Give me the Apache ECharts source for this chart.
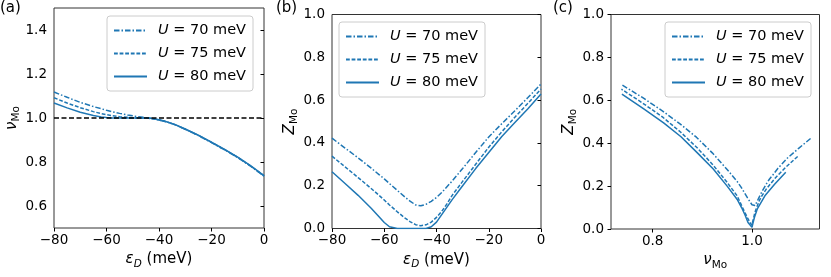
<!DOCTYPE html>
<html>
<head>
<meta charset="utf-8">
<script src="https://cdn.jsdelivr.net/npm/echarts@6/dist/echarts.min.js"></script>
<style>html,body{margin:0;padding:0;background:#fff;}#c{width:831px;height:277px;}</style>
</head>
<body>
<div id="c"></div>
<script>
// ---------------- data ----------------
const U_VALUES = [70, 75, 80];
const EPS = [-80,-75,-70,-65,-62,-60,-58,-55,-52,-50,-48,-46,-44,-42,-40,-38,-36,-34,-30,-25,-20,-15,-10,-5,0];

const NU_70 = [1.118,1.094,1.071,1.052,1.042,1.035,1.029,1.021,1.014,1.010,1.006,1.003,1.000,0.996,0.991,0.985,0.978,0.970,0.949,0.920,0.888,0.855,0.820,0.780,0.736];
const NU_75 = [1.092,1.068,1.047,1.029,1.020,1.015,1.011,1.006,1.003,1.001,1.000,1.000,0.999,0.996,0.991,0.985,0.978,0.970,0.949,0.921,0.889,0.856,0.821,0.781,0.737];
const NU_80 = [1.068,1.046,1.026,1.011,1.005,1.002,1.000,1.000,1.000,1.000,1.000,1.000,1.000,0.997,0.992,0.986,0.979,0.971,0.950,0.922,0.890,0.857,0.822,0.782,0.738];

const Z_70 = [0.422,0.376,0.330,0.282,0.252,0.232,0.210,0.178,0.146,0.127,0.110,0.106,0.113,0.127,0.145,0.168,0.195,0.222,0.280,0.355,0.428,0.490,0.550,0.612,0.675];
const Z_75 = [0.338,0.288,0.238,0.187,0.155,0.133,0.110,0.078,0.048,0.031,0.018,0.013,0.017,0.030,0.052,0.080,0.115,0.155,0.220,0.300,0.380,0.452,0.520,0.585,0.652];
const Z_80 = [0.265,0.210,0.155,0.095,0.055,0.028,0.008,0.000,0.000,0.000,0.000,0.000,0.000,0.008,0.030,0.065,0.100,0.135,0.200,0.280,0.355,0.430,0.495,0.560,0.629];

const NU_REF = 1.0;
const X_TICKS_EPS = [-80, -60, -40, -20, 0];
const Y_TICKS_NU = [0.6, 0.8, 1.0, 1.2, 1.4];
const Y_TICKS_Z = [0.0, 0.2, 0.4, 0.6, 0.8, 1.0];
const X_TICKS_NU = [0.8, 1.0];

// ---------------- style ----------------
const FONT = 'DejaVu Sans';
const BLUE = '#1f77b4';
const DASHES = [[5.5, 2, 1.5, 2], [3.8, 1.8], 'solid'];
const NU = [NU_70, NU_75, NU_80];
const Z = [Z_70, Z_75, Z_80];
const NAMES = U_VALUES.map(u => 'U = ' + u + ' meV');

const fmtMinus = v => (v < 0 ? '\u2212' + Math.abs(v) : String(v));
const fmt1 = v => v.toFixed(1);

const nameRich = {
  it: {fontFamily: FONT, fontStyle: 'italic', fontSize: 15, lineHeight: 20, color: '#000'},
  sub: {fontFamily: FONT, fontStyle: 'italic', fontSize: 10.5, lineHeight: 10.5, verticalAlign: 'bottom', color: '#000'},
  subr: {fontFamily: FONT, fontSize: 10.5, lineHeight: 10.5, verticalAlign: 'bottom', color: '#000'},
  n: {fontFamily: FONT, fontSize: 15, lineHeight: 20, color: '#000'}
};

function xAxisBase(gi, min, max, ticks, fmt, name, gap) {
  return {
    type: 'value', gridIndex: gi, min: min, max: max,
    axisLine: {show: false},
    axisTick: {show: true, length: 3.5, lineStyle: {color: '#000', width: 1}, customValues: ticks},
    axisLabel: {show: true, customValues: ticks, formatter: fmt, fontFamily: FONT, fontSize: 13.5, color: '#000', margin: 5},
    splitLine: {show: false},
    name: name, nameLocation: 'middle', nameGap: gap,
    nameTextStyle: {rich: nameRich}
  };
}
function yAxisBase(gi, min, max, ticks, fmt, name, gap) {
  return {
    type: 'value', gridIndex: gi, min: min, max: max,
    axisLine: {show: false},
    axisTick: {show: true, length: 3.5, lineStyle: {color: '#000', width: 1}, customValues: ticks},
    axisLabel: {show: true, customValues: ticks, formatter: fmt, fontFamily: FONT, fontSize: 13.5, color: '#000', margin: 7},
    splitLine: {show: false},
    name: name, nameLocation: 'middle', nameGap: gap, nameRotate: 90,
    nameTextStyle: {rich: nameRich}
  };
}

const grids = [
  {left: 54, top: 8, width: 210, height: 220},
  {left: 332, top: 14.5, width: 209, height: 214},
  {left: 611, top: 14.5, width: 208.5, height: 214.5}
].map(g => Object.assign(g, {show: true, borderColor: '#333', borderWidth: 1, backgroundColor: 'transparent'}));

const epsName = '{it|ε}{sub|D}{n| (meV)}';
const xAxes = [
  xAxisBase(0, -80, 0, X_TICKS_EPS, fmtMinus, epsName, 19),
  xAxisBase(1, -80, 0, X_TICKS_EPS, fmtMinus, epsName, 19),
  xAxisBase(2, 0.716, 1.136, X_TICKS_NU, fmt1, '{it|ν}{subr|Mo}', 20)
];
const yAxes = [
  yAxisBase(0, 0.5, 1.5, Y_TICKS_NU, fmt1, '{it|ν}{subr|Mo}', 28),
  yAxisBase(1, 0, 1, Y_TICKS_Z, fmt1, '{it|Z}{subr|Mo}', 31),
  yAxisBase(2, 0, 1, Y_TICKS_Z, fmt1, '{it|Z}{subr|Mo}', 32)
];

const series = [];
for (let p = 0; p < 3; p++) {
  for (let k = 0; k < 3; k++) {
    let data;
    if (p === 0) data = EPS.map((e, i) => [e, NU[k][i]]);
    else if (p === 1) data = EPS.map((e, i) => [e, Z[k][i]]);
    else data = NU[k].map((n, i) => [n, Z[k][i]]);
    const s = {
      type: 'line', name: NAMES[k], xAxisIndex: p, yAxisIndex: p, data: data,
      symbol: 'none', showSymbol: false, smooth: false, silent: true,
      lineStyle: {color: BLUE, width: 1.5, type: DASHES[k]},
      itemStyle: {color: BLUE},
      z: 3
    };
    if (p === 0 && k === 0) {
      s.markLine = {
        silent: true, symbol: 'none', animation: false,
        label: {show: false},
        lineStyle: {color: '#000', width: 1.5, type: [5, 2.5]},
        data: [{yAxis: NU_REF}]
      };
    }
    series.push(s);
  }
}

const legendRich = {
  u: {fontFamily: FONT, fontStyle: 'italic', fontSize: 14.5, lineHeight: 14, color: '#000', padding: [0, 0, 0, 6]},
  eq: {fontFamily: FONT, fontSize: 14.5, lineHeight: 14, color: '#000'},
  n: {fontFamily: FONT, fontSize: 14.5, lineHeight: 14, color: '#000'}
};
function legendAt(left, top) {
  return {
    show: true, orient: 'vertical', left: left, top: top, selectedMode: false,
    data: NAMES, itemWidth: 33, itemHeight: 14, itemGap: 8,
    padding: [7, 7, 7, 6],
    backgroundColor: 'rgba(255,255,255,0.8)', borderColor: '#cccccc', borderWidth: 1, borderRadius: 3,
    formatter: name => '{u|U}{eq| = }{n|' + name.replace('U = ', '').replace(' meV', '') + ' meV}',
    textStyle: {rich: legendRich, fontFamily: FONT, fontSize: 14.5},
    itemStyle: {opacity: 0}
  };
}

const titleStyle = {fontFamily: FONT, fontSize: 15, fontWeight: 'normal', color: '#000'};
const option = {
  animation: false,
  backgroundColor: '#fff',
  title: [
    {text: '(a)', left: 0, top: 1, padding: 0, textStyle: titleStyle},
    {text: '(b)', left: 276, top: 1, padding: 0, textStyle: titleStyle},
    {text: '(c)', left: 553, top: 1, padding: 0, textStyle: titleStyle}
  ],
  grid: grids,
  xAxis: xAxes,
  yAxis: yAxes,
  legend: [legendAt(107, 16), legendAt(339, 22), legendAt(665, 22)],
  series: series
};

const chart = echarts.init(document.getElementById('c'), null, {renderer: 'canvas'});
chart.setOption(option);
</script>
</body>
</html>
